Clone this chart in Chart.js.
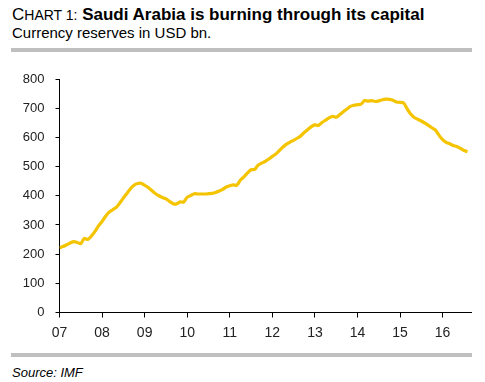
<!DOCTYPE html>
<html>
<head>
<meta charset="utf-8">
<script src="https://cdn.jsdelivr.net/npm/chart.js@4"></script>
<style>
  html, body { margin: 0; padding: 0; background: #fff; }
  body { width: 485px; height: 382px; position: relative; overflow: hidden; font-family: "Liberation Sans", Arial, sans-serif; color: #000; }
  .abs { position: absolute; white-space: nowrap; }
  #title { left: 12px; top: 6px; font-size: 17px; line-height: 17px; }
  #title .sc { font-size: 14px; }
  #title b { font-weight: bold; }
  #subtitle { left: 12px; top: 25px; font-size: 15px; line-height: 15px; }
  .rule { position: absolute; left: 11px; width: 461px; height: 4px; background: #bfbfbf; }
  #source { left: 12px; top: 366px; font-size: 13px; line-height: 13px; font-style: italic; }
  #wrap { position: absolute; left: 0; top: 60px; width: 485px; height: 290px; }
</style>
</head>
<body>
<div id="title" class="abs">C<span class="sc">HART 1:</span> <b>Saudi Arabia is burning through its capital</b></div>
<div id="subtitle" class="abs">Currency reserves in USD bn.</div>
<div class="rule" style="top:47.5px"></div>
<div id="wrap"><canvas id="c"></canvas></div>
<div class="rule" style="top:353px"></div>
<div id="source" class="abs">Source: IMF</div>
<script>
// Monthly currency reserves (USD bn), Jan 2007 .. Aug 2016
const monthIndex = Array.from({length: 116}, (_, i) => i);
const reserves = [
  222, 226, 232, 238, 243, 240, 236, 254, 250, 262, 278, 297,
  312, 330, 344, 352, 360, 375, 392, 408, 424, 436, 442, 443,
  436, 428, 418, 408, 400, 394, 389, 381, 373, 372, 379, 378,
  395, 401, 407, 406, 406, 406, 407, 408, 411, 416, 422, 430,
  434, 437, 436, 454, 465, 478, 489, 490, 505, 512, 518, 526,
  535, 543, 555, 567, 577, 584, 590, 597, 605, 617, 627, 637,
  643, 641, 651, 659, 667, 672, 669, 678, 688, 697, 706, 710,
  712, 714, 726, 724, 726, 723, 725, 729, 731, 730, 727, 721,
  720, 718, 698, 680, 668, 662, 656, 649, 641, 633, 625, 607,
  592, 583, 578, 572, 569, 562, 555, 551
];
const yearTicks = [0, 12, 24, 36, 48, 60, 72, 84, 96, 108];
const yearLabels = ['07', '08', '09', '10', '11', '12', '13', '14', '15', '16'];
const yTicks = [0, 100, 200, 300, 400, 500, 600, 700, 800];

const points = monthIndex.map((m, i) => ({x: m, y: reserves[i]}));

new Chart(document.getElementById('c'), {
  type: 'line',
  data: {
    datasets: [{
      data: points,
      borderColor: '#F5C400',
      borderWidth: 3.2,
      pointRadius: 0,
      tension: 0.2,
      fill: false
    }]
  },
  options: {
    responsive: true,
    maintainAspectRatio: false,
    animation: false,
    events: [],
    layout: { padding: { top: 19, right: 14, left: 0, bottom: 0 } },
    plugins: { legend: { display: false }, tooltip: { enabled: false }, title: { display: false } },
    scales: {
      x: {
        type: 'linear',
        min: 0,
        max: 116,
        afterBuildTicks: s => { s.ticks = yearTicks.map(v => ({value: v})); },
        afterFit: s => { s.height = 37.5; },
        border: { display: true, color: '#000', width: 1 },
        grid: { drawOnChartArea: false, drawTicks: true, tickLength: 5, color: '#000' },
        ticks: {
          autoSkip: false,
          maxRotation: 0,
          padding: 7,
          color: '#222',
          font: { family: '"Liberation Sans", Arial, sans-serif', size: 14 },
          callback: v => yearLabels[yearTicks.indexOf(v)]
        }
      },
      y: {
        min: 0,
        max: 800,
        afterBuildTicks: s => { s.ticks = yTicks.map(v => ({value: v})); },
        afterFit: s => { s.width = 59.5; },
        border: { display: true, color: '#000', width: 1 },
        grid: { drawOnChartArea: false, drawTicks: true, tickLength: 4, color: '#000' },
        ticks: {
          padding: 11,
          color: '#222',
          font: { family: '"Liberation Sans", Arial, sans-serif', size: 13 }
        }
      }
    }
  }
});
</script>
</body>
</html>
